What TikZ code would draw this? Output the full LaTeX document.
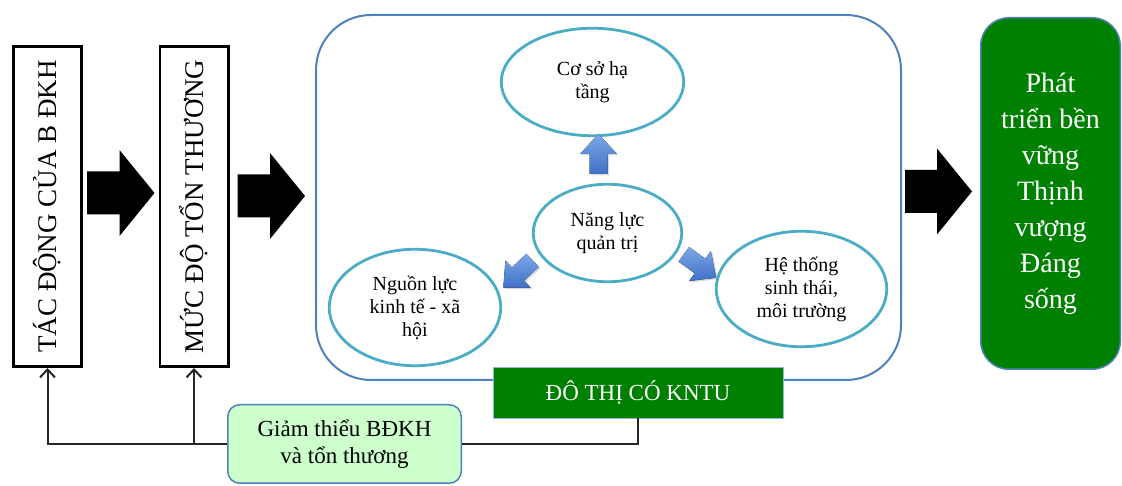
\documentclass[tikz,border=0pt]{standalone}
\usepackage{fontspec}
\setmainfont{Liberation Serif}
\usepackage{graphicx}
\usetikzlibrary{shapes.geometric,arrows.meta,calc,shadows}

\definecolor{frameblue}{RGB}{79,129,189}
\definecolor{ringcyan}{RGB}{75,172,198}
\definecolor{leafgreen}{RGB}{0,128,0}
\definecolor{mintfill}{RGB}{204,255,204}
\definecolor{arrowlight}{RGB}{125,168,232}
\definecolor{arrowdark}{RGB}{62,112,198}

% black block arrow between two nodes: source, target, start gap, end gap, axis height
\newcommand\bigarrow[5]{%
  \fill[black] let \p1=(#1.east), \p2=(#2.west) in
    ({\x1+#3pt},{#5pt-21.5pt}) -- ({\x2-#4pt-35pt},{#5pt-21.5pt}) --
    ({\x2-#4pt-35pt},{#5pt-43pt}) -- ({\x2-#4pt},{#5pt}) --
    ({\x2-#4pt-35pt},{#5pt+43pt}) -- ({\x2-#4pt-35pt},{#5pt+21.5pt}) --
    ({\x1+#3pt},{#5pt+21.5pt}) -- cycle;}

% small shaded block arrow: centre, direction angle
\newcommand\bluearrow[2]{%
  \fill[shift={#1},rotate=#2,top color=arrowlight,bottom color=arrowdark,
        drop shadow={opacity=0.3,shadow xshift=1.5pt,shadow yshift=-1.5pt}]
    (-20,-9) -- (0,-9) -- (0,-18.5) -- (20,0) -- (0,18.5) -- (0,9) -- (-20,9) -- cycle;}

\begin{document}
\begin{tikzpicture}[x=1pt,y=1pt,
  stagebox/.style={draw=black,line width=2.8pt,fill=white,minimum width=68.2,
    minimum height=320.2,inner sep=0pt},
  ring/.style={ellipse,draw=ringcyan,line width=2.8pt,fill=white,inner sep=0pt,
    align=center,font=\fontsize{20}{23}\selectfont},
  fb/.style={line width=2pt,draw=black!85},
  fbtip/.style={-{Straight Barb[length=8pt,width=15pt]}},
]
\useasboundingbox (0,0) rectangle (1122,486);

% stages on the left
\node[stagebox] (impact) at (47.5,279.5)
  {\rotatebox{90}{\fontsize{27}{27}\selectfont TÁC ĐỘNG CỦA B ĐKH}};
\node[stagebox] (harm) at (194,279.5)
  {\rotatebox{90}{\fontsize{27}{27}\selectfont MỨC ĐỘ TỔN THƯƠNG}};

% resilient city frame
\node[draw=frameblue,line width=2pt,rounded corners=55,minimum width=585,
  minimum height=365,inner sep=0pt] (city) at (608.5,288.5) {};

\node[ring,minimum width=182.5,minimum height=107.5] (infra) at (592.5,404) {Cơ sở hạ\\tầng};
\node[ring,minimum width=148.5,minimum height=97.5] (core) at (607.5,253) {Năng lực\\quản trị};
\node[ring,minimum width=171.5,minimum height=116.5] (econ) at (415,178.5) {Nguồn lực\\kinh tế - xã\\hội};
\node[ring,minimum width=170.5,minimum height=115.5] (eco) at (801.5,197) {Hệ thống\\sinh thái,\\môi trường};

\bluearrow{(598.5,332)}{90}
\bluearrow{(518,212)}{223}
\bluearrow{(700,220)}{-36}

\node[fill=leafgreen,draw=frameblue!60,line width=0.8pt,minimum width=290,
  minimum height=51,inner sep=0pt,text=white,font=\fontsize{23}{23}\selectfont]
  (kntu) at (638,93.5) {ĐÔ THỊ CÓ KNTU};

% outcome
\node[fill=leafgreen,draw=frameblue,line width=1.5pt,rounded corners=28,
  minimum width=139.5,minimum height=351.5,inner sep=0pt,text=white,align=center,
  font=\fontsize{28}{36}\selectfont] (goal) at (1050.5,292.5)
  {Phát\\triển bền\\vững\\Thịnh\\vượng\\Đáng\\sống};

% mitigation feedback
\node[fill=mintfill,draw=frameblue,line width=1.5pt,rounded corners=12,
  minimum width=233.5,minimum height=78.5,inner sep=0pt,align=center,
  font=\fontsize{23}{27}\selectfont] (mitig) at (344.5,42)
  {Giảm thiểu BĐKH\\và tổn thương};

\draw[fb] (kntu.south) |- (mitig.east);
\draw[fb,fbtip] (mitig.west) -| (impact.south);
\draw[fb,fbtip] (mitig.west -| harm.south) -- (harm.south);

% main flow
\bigarrow{impact}{harm}{4}{4}{293}
\bigarrow{harm}{city}{8}{10}{290}
\bigarrow{city}{goal}{3}{8}{294.5}
\end{tikzpicture}
\end{document}
